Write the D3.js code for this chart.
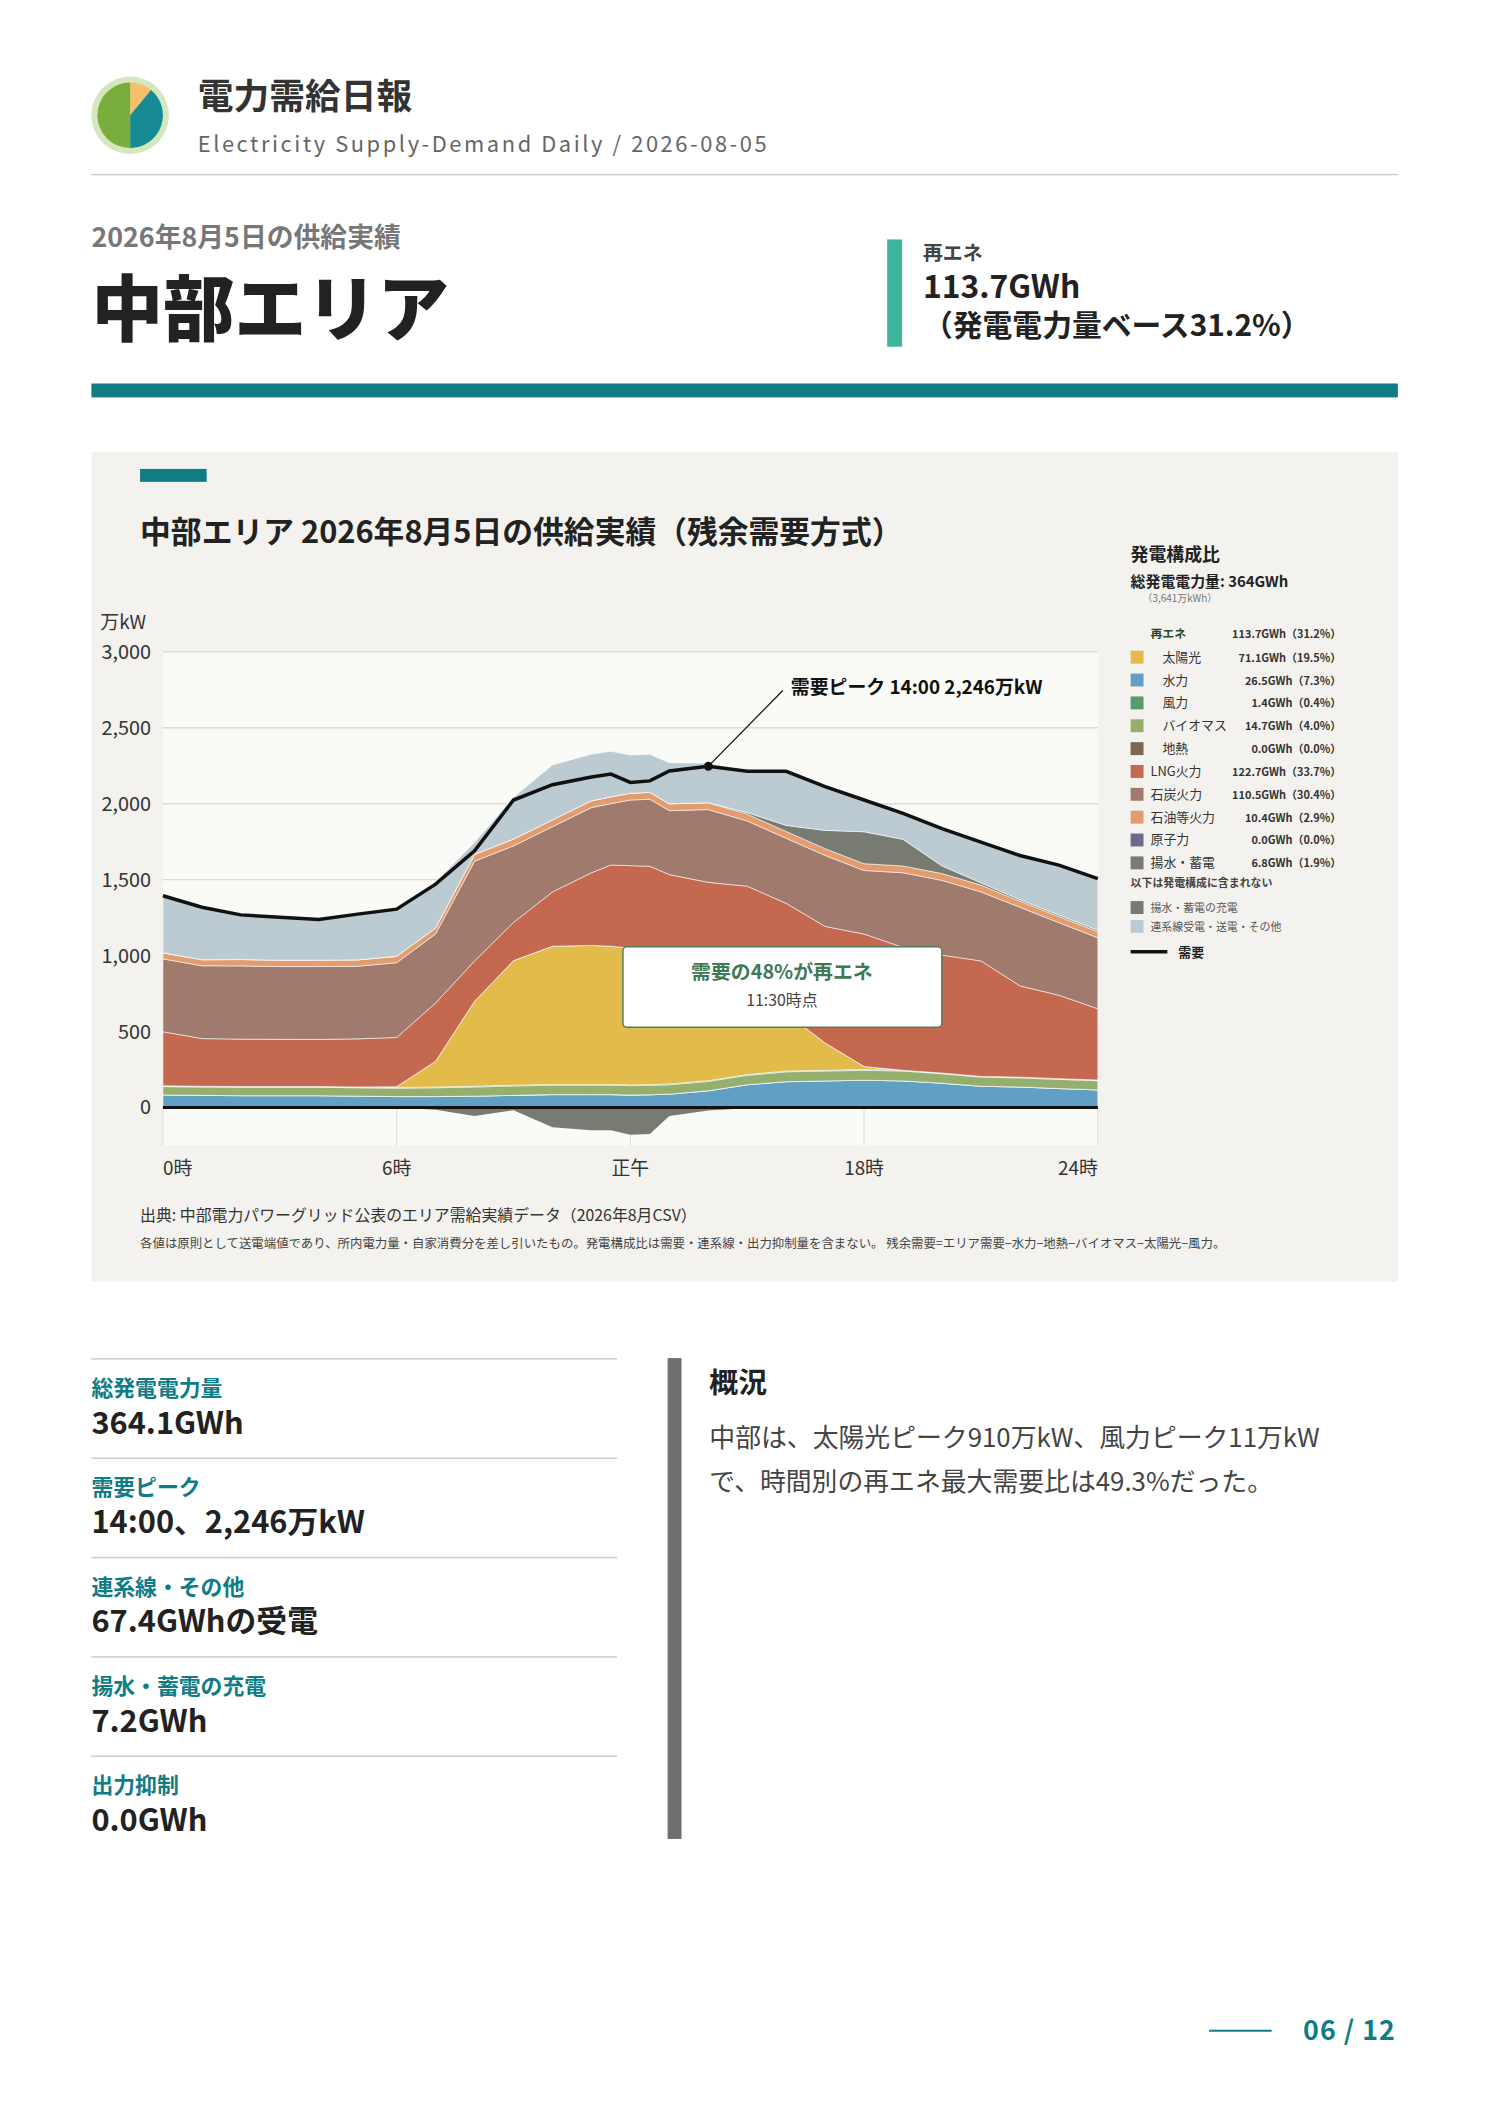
<!DOCTYPE html>
<meta charset="utf-8">
<style>
body { margin:0; background:#fff; font-family:"Noto Sans CJK JP","Noto Sans",sans-serif; }
text { font-family:"Noto Sans CJK JP","Noto Sans",sans-serif; }
</style>
<body>
<script src="https://d3js.org/d3.v7.min.js"></script>
<script>
var width = 1488, height = 2105;

// hourly readings (万kW)
var hours      = [0,1,2,3,4,5,6,7,8,9,10,11,11.5,12,12.5,13,14,15,16,17,18,19,20,21,22,23,24];
var demand     = [1394,1318,1268,1253,1238,1273,1306,1470,1690,2024,2125,2175,2195,2140,2150,2215,2246,2213,2213,2112,2024,1936,1835,1747,1659,1596,1507];
var hydro      = [83,80,78,78,78,75,72,72,75,80,85,85,85,82,84,88,110,150,170,175,180,175,160,140,135,125,116];
var geothermal = [0,0,0,0,0,0,0,0,0,0,0,0,0,0,0,0,0,0,0,0,0,0,0,0,0,0,0];
var biomass    = [55,55,55,55,55,55,55,58,60,62,62,62,62,62,62,62,62,62,65,65,65,65,62,60,60,60,60];
var wind       = [5,5,5,5,5,5,5,5,5,5,5,5,5,5,5,5,5,5,5,5,5,5,5,5,5,5,5];
var solar      = [0,0,0,0,0,0,5,170,560,820,910,915,910,900,890,870,800,650,380,180,20,0,0,0,0,0,0];
var nuclear    = [0,0,0,0,0,0,0,0,0,0,0,0,0,0,0,0,0,0,0,0,0,0,0,0,0,0,0];
var lng        = [356,314,312,311,310,317,324,383,265,251,357,478,534,543,547,508,505,590,724,767,872,809,776,760,601,549,469];
var coal       = [479,479,482,479,480,478,492,454,656,504,429,429,404,432,441,421,479,429,428,467,418,491,492,454,517,478,467];
var oil        = [40,40,42,42,42,42,42,40,45,45,45,45,45,45,45,45,45,45,45,45,45,45,45,45,40,40,40];
var pumpGen    = [0,0,0,0,0,0,0,0,0,0,0,0,0,0,0,0,0,10,40,120,210,175,50,15,10,10,10];
var pumpCharge = [0,0,0,0,0,0,0,15,55,18,130,150,150,180,175,55,20,5,0,0,0,0,0,0,0,0,0];

var layerKeys   = ["hydro","geothermal","biomass","wind","solar","nuclear","lng","coal","oil","pumpGen","inter"];
var layerColors = {hydro:"#629fc4",geothermal:"#7d6652",biomass:"#95b06e",wind:"#5a9a6e",solar:"#e2bb4b",nuclear:"#6e6a8c",
  lng:"#c4694f",coal:"#a07b6d",oil:"#e39c6e",pumpGen:"#777b72",inter:"#bccbd1"};

var legendNames  = ["太陽光","水力","風力","バイオマス","地熱","LNG火力","石炭火力","石油等火力","原子力","揚水・蓄電"];
var legendKeys   = ["solar","hydro","wind","biomass","geothermal","lng","coal","oil","nuclear","pumpGen"];
var legendValues = ["71.1GWh（19.5%）","26.5GWh（7.3%）","1.4GWh（0.4%）","14.7GWh（4.0%）","0.0GWh（0.0%）",
  "122.7GWh（33.7%）","110.5GWh（30.4%）","10.4GWh（2.9%）","0.0GWh（0.0%）","6.8GWh（1.9%）"];
var yTicks = [0,500,1000,1500,2000,2500,3000];
var xTicks = [0,6,12,18,24];
var xTickLabels = ["0時","6時","正午","18時","24時"];

var stats = [["総発電電力量","364.1GWh"],["需要ピーク","14:00、2,246万kW"],["連系線・その他","67.4GWhの受電"],["揚水・蓄電の充電","7.2GWh"],["出力抑制","0.0GWh"]];

var rows = hours.map(function(h,i){
  var r = {h:h, hydro:hydro[i], geothermal:geothermal[i], biomass:biomass[i], wind:wind[i], solar:solar[i],
    nuclear:nuclear[i], lng:lng[i], coal:coal[i], oil:oil[i], pumpGen:pumpGen[i]};
  var s = hydro[i]+geothermal[i]+biomass[i]+wind[i]+solar[i]+nuclear[i]+lng[i]+coal[i]+oil[i]+pumpGen[i];
  r.inter = Math.max(0, demand[i] + pumpCharge[i] - s);
  return r;
});

var root = d3.select("body").append("svg").attr("width", width).attr("height", height);
var svg = root.append("g").attr("transform","scale(0.9935)");

// header
var logo = svg.append("g").attr("transform","translate(131,116)");
logo.append("circle").attr("r",39).attr("fill","#d4e8bf");
var pie = d3.pie().sort(null)([0.11,0.39,0.5]);
var arc = d3.arc().innerRadius(0).outerRadius(33);
logo.selectAll("path").data(pie).enter().append("path").attr("d",arc)
  .attr("fill",function(d,i){return ["#f4c06c","#168b94","#79ad3c"][i];});
svg.append("text").attr("x",199).attr("y",110).attr("font-size",36).attr("font-weight",700).attr("fill","#333").text("電力需給日報");
svg.append("text").attr("x",199).attr("y",153).attr("font-size",22).attr("fill","#666").attr("letter-spacing",2.6).text("Electricity Supply-Demand Daily / 2026-08-05");
svg.append("rect").attr("x",92).attr("y",175).attr("width",1315).attr("height",1.5).attr("fill","#ccc");

svg.append("text").attr("x",92).attr("y",249).attr("font-size",27).attr("font-weight",700).attr("fill","#777").text("2026年8月5日の供給実績");
svg.append("text").attr("x",92).attr("y",337).attr("font-size",72).attr("font-weight",900).attr("fill","#222").text("中部エリア");
svg.append("rect").attr("x",893).attr("y",241).attr("width",15).attr("height",108).attr("fill","#3db59c");
svg.append("text").attr("x",929).attr("y",262).attr("font-size",20).attr("font-weight",700).attr("fill","#444").text("再エネ");
svg.append("text").attr("x",929).attr("y",300).attr("font-size",32).attr("font-weight",700).attr("fill","#222").text("113.7GWh");
svg.append("text").attr("x",929).attr("y",338).attr("font-size",30).attr("font-weight",700).attr("fill","#222").text("（発電電力量ベース31.2%）");
svg.append("rect").attr("x",92).attr("y",386).attr("width",1315).attr("height",14).attr("fill","#0f7c86");

// panel
svg.append("rect").attr("x",92).attr("y",455).attr("width",1315).attr("height",835).attr("fill","#f4f2ee");
svg.append("rect").attr("x",141).attr("y",472).attr("width",67).attr("height",13).attr("fill","#0f7c86");
svg.append("text").attr("x",141).attr("y",547).attr("font-size",31).attr("font-weight",700).attr("fill","#222").text("中部エリア 2026年8月5日の供給実績（残余需要方式）");

var x = d3.scaleLinear().domain([0,24]).range([164,1105]);
var y = d3.scaleLinear().domain([-250,3000]).range([1153,656]);

svg.append("rect").attr("x",x(0)).attr("y",y(3000)).attr("width",x(24)-x(0)).attr("height",y(-250)-y(3000)).attr("fill","#fafaf6");
svg.append("g").selectAll("line").data(yTicks).enter().append("line")
  .attr("x1",x(0)).attr("x2",x(24)).attr("y1",function(d){return y(d);}).attr("y2",function(d){return y(d);})
  .attr("stroke","#dcdcd6").attr("stroke-width",1.5);
svg.append("g").selectAll("line").data(xTicks).enter().append("line")
  .attr("x1",function(d){return x(d);}).attr("x2",function(d){return x(d);}).attr("y1",y(0)).attr("y2",y(-250))
  .attr("stroke","#dcdcd6").attr("stroke-width",1);
svg.append("g").selectAll("text").data(yTicks).enter().append("text")
  .attr("x",152).attr("y",function(d){return y(d)+7;}).attr("text-anchor","end").attr("font-size",20).attr("fill","#333")
  .text(d3.format(","));
svg.append("text").attr("x",101).attr("y",633).attr("font-size",19).attr("fill","#333").text("万kW");
svg.append("g").selectAll("text").data(xTicks).enter().append("text")
  .attr("x",function(d){return x(d);}).attr("y",1183).attr("font-size",19).attr("fill","#333")
  .attr("text-anchor",function(d,i){return i==0?"start":(i==4?"end":"middle");})
  .text(function(d,i){return xTickLabels[i];});

var stack = d3.stack().keys(layerKeys)(rows);
var area = d3.area().x(function(d){return x(d.data.h);}).y0(function(d){return y(d[0]);}).y1(function(d){return y(d[1]);});
svg.append("g").selectAll("path").data(stack).enter().append("path")
  .attr("d",area).attr("fill",function(d){return layerColors[d.key];})
  .attr("stroke","rgba(255,255,255,0.7)").attr("stroke-width",0.8);
svg.append("path").datum(hours)
  .attr("d",d3.area().x(function(d){return x(d);}).y0(y(0)).y1(function(d,i){return y(-pumpCharge[i]);}))
  .attr("fill","#777b72");
svg.append("line").attr("x1",x(0)).attr("x2",x(24)).attr("y1",y(0)).attr("y2",y(0)).attr("stroke","#111").attr("stroke-width",3);
svg.append("path").datum(hours)
  .attr("d",d3.line().x(function(d){return x(d);}).y(function(d,i){return y(demand[i]);}))
  .attr("fill","none").attr("stroke","#111").attr("stroke-width",3.5);

// peak annotation
var pi = demand.indexOf(d3.max(demand));
svg.append("circle").attr("cx",x(hours[pi])).attr("cy",y(demand[pi])).attr("r",4.5).attr("fill","#111");
svg.append("line").attr("x1",x(hours[pi])).attr("y1",y(demand[pi])).attr("x2",788).attr("y2",695).attr("stroke","#111").attr("stroke-width",1.2);
svg.append("text").attr("x",796).attr("y",699).attr("font-size",19).attr("font-weight",700).attr("fill","#111").text("需要ピーク 14:00 2,246万kW");

// callout
svg.append("rect").attr("x",627).attr("y",953).attr("width",321).attr("height",81).attr("rx",4)
  .attr("fill","#fff").attr("stroke","#4f7f5d").attr("stroke-width",1.5);
svg.append("text").attr("x",787).attr("y",985).attr("text-anchor","middle").attr("font-size",20).attr("font-weight",700).attr("fill","#3f7a55").text("需要の48%が再エネ");
svg.append("text").attr("x",787).attr("y",1013).attr("text-anchor","middle").attr("font-size",16).attr("fill","#444").text("11:30時点");

// legend
var lg = svg.append("g");
lg.append("text").attr("x",1138).attr("y",565).attr("font-size",18).attr("font-weight",700).attr("fill","#222").text("発電構成比");
lg.append("text").attr("x",1138).attr("y",591).attr("font-size",15).attr("font-weight",700).attr("fill","#222").text("総発電電力量: 364GWh");
lg.append("text").attr("x",1150).attr("y",606).attr("font-size",10).attr("fill","#777").text("（3,641万kWh）");
lg.append("text").attr("x",1158).attr("y",642).attr("font-size",12).attr("font-weight",700).attr("fill","#1f4a2c").text("再エネ");
lg.append("text").attr("x",1350).attr("y",642).attr("text-anchor","end").attr("font-size",11).attr("font-weight",700).attr("fill","#333").text("113.7GWh（31.2%）");
legendKeys.forEach(function(k,i){
  var yy = 655 + i*23;
  lg.append("rect").attr("x",1138).attr("y",yy).attr("width",13).attr("height",13).attr("fill",layerColors[k]);
  lg.append("text").attr("x",i<5?1170:1158).attr("y",yy+11).attr("font-size",13).attr("fill","#333").text(legendNames[i]);
  lg.append("text").attr("x",1350).attr("y",yy+11).attr("text-anchor","end").attr("font-size",11).attr("font-weight",700).attr("fill","#333").text(legendValues[i]);
});
lg.append("text").attr("x",1138).attr("y",893).attr("font-size",11).attr("font-weight",700).attr("fill","#444").text("以下は発電構成に含まれない");
lg.append("rect").attr("x",1138).attr("y",907).attr("width",13).attr("height",13).attr("fill","#777b72");
lg.append("text").attr("x",1158).attr("y",918).attr("font-size",11).attr("fill","#555").text("揚水・蓄電の充電");
lg.append("rect").attr("x",1138).attr("y",926).attr("width",13).attr("height",13).attr("fill","#bccbd1");
lg.append("text").attr("x",1158).attr("y",937).attr("font-size",11).attr("fill","#555").text("連系線受電・送電・その他");
lg.append("line").attr("x1",1138).attr("x2",1175).attr("y1",958).attr("y2",958).attr("stroke","#111").attr("stroke-width",3.5);
lg.append("text").attr("x",1186).attr("y",963).attr("font-size",13).attr("font-weight",700).attr("fill","#222").text("需要");

svg.append("text").attr("x",141).attr("y",1229).attr("font-size",16).attr("fill","#333").text("出典: 中部電力パワーグリッド公表のエリア需給実績データ（2026年8月CSV）");
svg.append("text").attr("x",141).attr("y",1256).attr("font-size",12.5).attr("fill","#444").text("各値は原則として送電端値であり、所内電力量・自家消費分を差し引いたもの。発電構成比は需要・連系線・出力抑制量を含まない。 残余需要=エリア需要−水力−地熱−バイオマス−太陽光−風力。");

// stats
stats.forEach(function(s,i){
  var y0 = 1367 + i*100;
  svg.append("rect").attr("x",92).attr("y",y0).attr("width",529).attr("height",1.5).attr("fill","#ccc");
  svg.append("text").attr("x",92).attr("y",y0+38).attr("font-size",22).attr("font-weight",700).attr("fill","#0f7c86").text(s[0]);
  svg.append("text").attr("x",92).attr("y",y0+76).attr("font-size",31).attr("font-weight",700).attr("fill","#222").text(s[1]);
});
svg.append("rect").attr("x",672).attr("y",1367).attr("width",14).attr("height",484).attr("fill","#6f6f72");
svg.append("text").attr("x",714).attr("y",1402).attr("font-size",29).attr("font-weight",700).attr("fill","#222").text("概況");
svg.append("text").attr("x",714).attr("y",1456).attr("font-size",26).attr("fill","#444").text("中部は、太陽光ピーク910万kW、風力ピーク11万kW");
svg.append("text").attr("x",714).attr("y",1501).attr("font-size",26).attr("fill","#444").text("で、時間別の再エネ最大需要比は49.3%だった。");

// footer
svg.append("rect").attr("x",1217).attr("y",2043).attr("width",63).attr("height",2).attr("fill","#0f7c86");
svg.append("text").attr("x",1405).attr("y",2053).attr("text-anchor","end").attr("font-size",27).attr("font-weight",700).attr("fill","#0f7c86").attr("letter-spacing",1).text("06 / 12");
</script>
